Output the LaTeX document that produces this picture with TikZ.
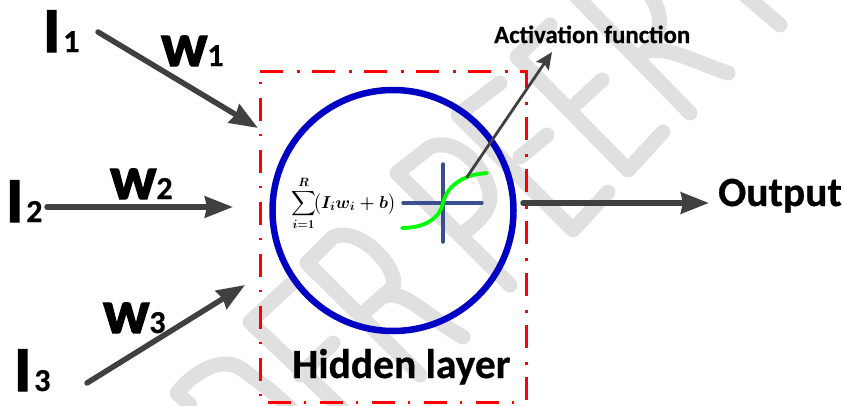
\documentclass[tikz,border=0pt]{standalone}
\usepackage{amsmath}
\usepackage{fontspec}
\setmainfont{Carlito}
\newfontfamily\heavy[BoldFeatures={FakeBold=2.2}]{Carlito}
\newfontfamily\semi[BoldFeatures={FakeBold=0.6}]{Carlito}
\usetikzlibrary{arrows.meta}
\definecolor{wm}{HTML}{E0E0E0}
\definecolor{arrowgray}{HTML}{404040}
\definecolor{axisblue}{HTML}{3B4F8F}
\definecolor{ringblue}{HTML}{0000C4}
\newcommand{\subnum}[1]{{\fontsize{32}{32}\selectfont\semi\bfseries #1}}
\tikzset{
  wmark/.style={draw=wm,line width=15pt,line cap=round,line join=round},
  bigarrow/.style={draw=arrowgray,line width=5.5pt,line cap=round,-{Stealth[length=28pt,width=21pt,inset=2pt]}},
  thinarrow/.style={draw=arrowgray,line width=2.8pt,line cap=round,-{Stealth[length=17pt,width=15pt,inset=3pt]}},
  inlabel/.style={anchor=base west,inner sep=0pt,font=\fontsize{64}{64}\selectfont\heavy\bfseries},
  wlabel/.style={anchor=base west,inner sep=0pt,font=\fontsize{62}{62}\selectfont\heavy\bfseries},
  title/.style={anchor=base west,inner sep=0pt,font=\fontsize{41.5}{41.5}\selectfont\semi\bfseries},
  redbox/.style={draw=red,line width=3pt,dash pattern=on 23pt off 14pt on 2.5pt off 12.5pt},
}
\begin{document}
\begin{tikzpicture}[x=1pt,y=-1pt]
\useasboundingbox (0,0) rectangle (844,405);
% watermark
\begin{scope}
\clip (0,0) rectangle (844,405);
\draw[wmark] (190,405) -- (177,393) .. controls (195,370) and (225,355) .. (243,370) -- (270,390) -- (290,408);
\draw[wmark] (290,285) -- (250,322) -- (345,412);
\draw[wmark] (333,343) -- (300,375);
\draw[wmark] (510,285) -- (397,173) -- (430,147) .. controls (460,135) and (490,175) .. (490,197) .. controls (490,212) and (475,225) .. (463,233);
\draw[wmark] (420,375) -- (307,263) -- (333,237) .. controls (360,225) and (400,270) .. (393,287) -- (367,310);
\draw[wmark] (385,296) .. controls (405,290) and (425,315) .. (463,337);
\draw[wmark] (500,83) -- (458,115) -- (573,230) -- (608,192);
\draw[wmark] (520,157) -- (547,135);
\draw[wmark] (550,25) -- (517,57) -- (628,170) -- (663,132);
\draw[wmark] (577,103) -- (602,80);
\draw[wmark] (575,-5) -- (690,113);
\draw[wmark] (640,-15) .. controls (665,5) and (665,35) .. (645,52);
\draw[wmark] (645,52) .. controls (665,45) and (690,60) .. (728,73);
\draw[wmark] (745,-5) -- (780,25);
\end{scope}
% box and neuron
\draw[redbox] (260,71) -- (526,71) -- (526,402) -- (260,402) -- cycle;
\node[draw=ringblue,line width=6.5pt,circle,minimum size=241pt,inner sep=0pt] (ring) at (393,210.5) {};
\coordinate (ha) at (403,203); \coordinate (hb) at (482,203);
\coordinate (va) at (443,164); \coordinate (vb) at (443,242);
\draw[axisblue,line width=3.4pt,line cap=round] (ha) -- (hb);
\draw[axisblue,line width=3.4pt,line cap=round] (va) -- (vb);
\coordinate (ga) at (402,228); \coordinate (gb) at (443,203); \coordinate (gc) at (467,177); \coordinate (gd) at (487,173);
\draw[green,line width=3.8pt,line cap=round] (ga) .. controls (425,228) and (440,218) .. (gb) .. controls (446,190) and (455,182) .. (gc) .. controls (474,174) and (480,174) .. (gd);
\node[inner sep=0pt,anchor=base west,font=\fontsize{18.2}{20}\selectfont] (formula) at (291,208) {$\displaystyle\sum_{\boldsymbol{i=1}}^{\boldsymbol{R}}\!\bigl(\boldsymbol{I_i w_i+b}\bigr)$};
% labels
\node[inlabel] (i1) at (43,52) {I\hspace{3pt}\subnum{1}};
\node[inlabel] (i2) at (6,222) {I\hspace{3pt}\subnum{2}};
\node[inlabel] (i3) at (14,391) {I\hspace{3pt}\subnum{3}};
\node[wlabel] (w1) at (161,66) {w\subnum{1}};
\node[wlabel] (w2) at (110,199) {w\subnum{2}};
\node[wlabel] (w3) at (103,333) {w\subnum{3}};
\node[title] (out) at (718,206) {Output};
\node[title] (hid) at (292,378) {Hidden layer};
\node[anchor=base west,inner sep=0pt,font=\fontsize{24.8}{25}\selectfont\semi\bfseries] (act) at (494,43) {Activation function};
% connectors
\coordinate (a1s) at (98,32); \coordinate (a1e) at (258,128);
\coordinate (a2s) at (47,207); \coordinate (a2e) at (233,207);
\coordinate (a3s) at (87,383); \coordinate (a3e) at (245,285);
\coordinate (a4s) at (523,203); \coordinate (a4e) at (709,203);
\coordinate (a5e) at (552,52);
\draw[bigarrow] (a1s) -- (a1e);
\draw[bigarrow] (a2s) -- (a2e);
\draw[bigarrow] (a3s) -- (a3e);
\draw[bigarrow] (a4s) -- (a4e);
\draw[thinarrow] (gc) -- (a5e);
\end{tikzpicture}
\end{document}
